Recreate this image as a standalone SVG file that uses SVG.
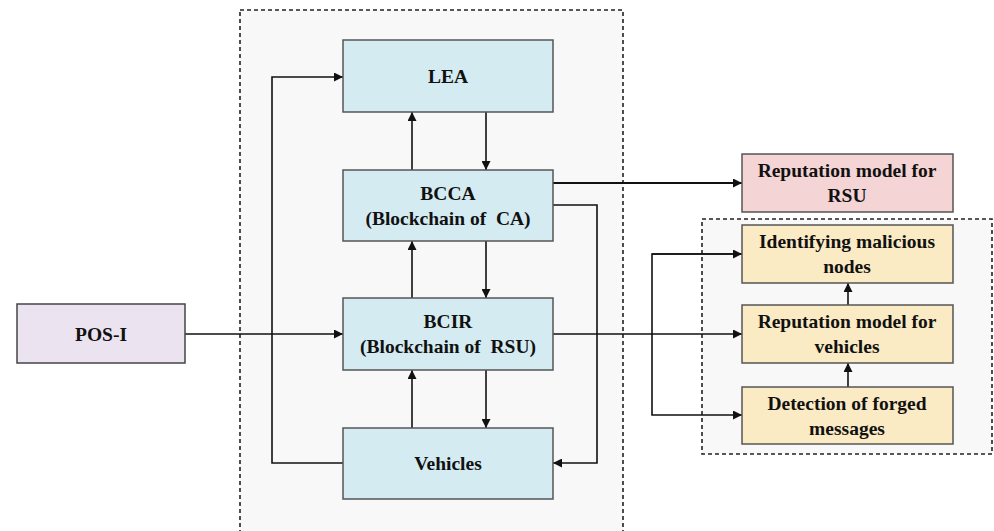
<svg xmlns="http://www.w3.org/2000/svg" width="994" height="531" viewBox="0 0 994 531">
<style>
.t{font-family:"Liberation Serif","Times New Roman",serif;font-weight:bold;font-size:19.5px;fill:#111;text-anchor:middle;white-space:pre}
.b{fill:#d4ecf1;stroke:#555;stroke-width:1.5}
.y{fill:#fbebc4;stroke:#555;stroke-width:1.5}
.c{fill:none;stroke:#111;stroke-width:1.6}
.d{fill:none;stroke:#222;stroke-width:1.6;stroke-dasharray:4,3}
</style>
<defs>
<marker id="a" viewBox="0 0 10 10" refX="10" refY="5" markerWidth="9" markerHeight="9" markerUnits="userSpaceOnUse" orient="auto"><path d="M0,0L10,5L0,10z" fill="#111"/></marker>
</defs>
<rect width="994" height="531" fill="#fff"/>
<rect x="240" y="10" width="383" height="530" class="d" style="fill:#f8f8f8"/>
<rect x="702" y="219" width="290" height="235" class="d" style="fill:#f8f8f8"/>
<g id="connectors">
<path class="c" d="M412,170V112" marker-end="url(#a)"/>
<path class="c" d="M486,112V170" marker-end="url(#a)"/>
<path class="c" d="M412,298V241" marker-end="url(#a)"/>
<path class="c" d="M486,241V298" marker-end="url(#a)"/>
<path class="c" d="M412,428V370" marker-end="url(#a)"/>
<path class="c" d="M486,370V428" marker-end="url(#a)"/>
<path class="c" d="M343,463H272V77H343" marker-end="url(#a)"/>
<path class="c" d="M553,205H597V463H553" marker-end="url(#a)"/>
<path class="c" d="M553,183H742" marker-end="url(#a)" style="stroke-width:2"/>
<path class="c" d="M185,334H343" marker-end="url(#a)" style="stroke-width:1.3"/>
<path class="c" d="M553,334H742" marker-end="url(#a)" style="stroke-width:1.3"/>
<path class="c" d="M742,254H652V415H742" marker-end="url(#a)"/>
<path class="c" d="M652,254H742" marker-end="url(#a)"/>
<path class="c" d="M848,387V363" marker-end="url(#a)"/>
<path class="c" d="M848,305V283" marker-end="url(#a)"/>
</g>
<g id="lea"><rect class="b" x="343" y="40" width="210" height="72"/><text class="t" x="448" y="83">LEA</text></g>
<g id="bcca"><rect class="b" x="343" y="170" width="210" height="71"/><text class="t" x="448" y="200">BCCA</text><text class="t" x="448" y="225">(Blockchain of  CA)</text></g>
<g id="bcir"><rect class="b" x="343" y="298" width="210" height="72"/><text class="t" x="448" y="328">BCIR</text><text class="t" x="448" y="353">(Blockchain of  RSU)</text></g>
<g id="vehicles"><rect class="b" x="343" y="428" width="210" height="71"/><text class="t" x="448" y="470">Vehicles</text></g>
<g id="posi"><rect x="17" y="304" width="168" height="59" fill="#ebe4f0" stroke="#444" stroke-width="1.5"/><text class="t" x="101" y="341">POS-I</text></g>
<g id="rep-rsu"><rect x="742" y="154" width="211" height="58" fill="#f4d4d4" stroke="#555" stroke-width="1.5"/><text class="t" x="847" y="177">Reputation model for</text><text class="t" x="847" y="202">RSU</text></g>
<g id="ident"><rect class="y" x="742" y="225" width="211" height="58"/><text class="t" x="847" y="248">Identifying malicious</text><text class="t" x="847" y="273">nodes</text></g>
<g id="rep-veh"><rect class="y" x="742" y="305" width="211" height="58"/><text class="t" x="847" y="328">Reputation model for</text><text class="t" x="847" y="353">vehicles</text></g>
<g id="detect"><rect class="y" x="742" y="387" width="211" height="57"/><text class="t" x="847" y="410">Detection of forged</text><text class="t" x="847" y="435">messages</text></g>
</svg>
